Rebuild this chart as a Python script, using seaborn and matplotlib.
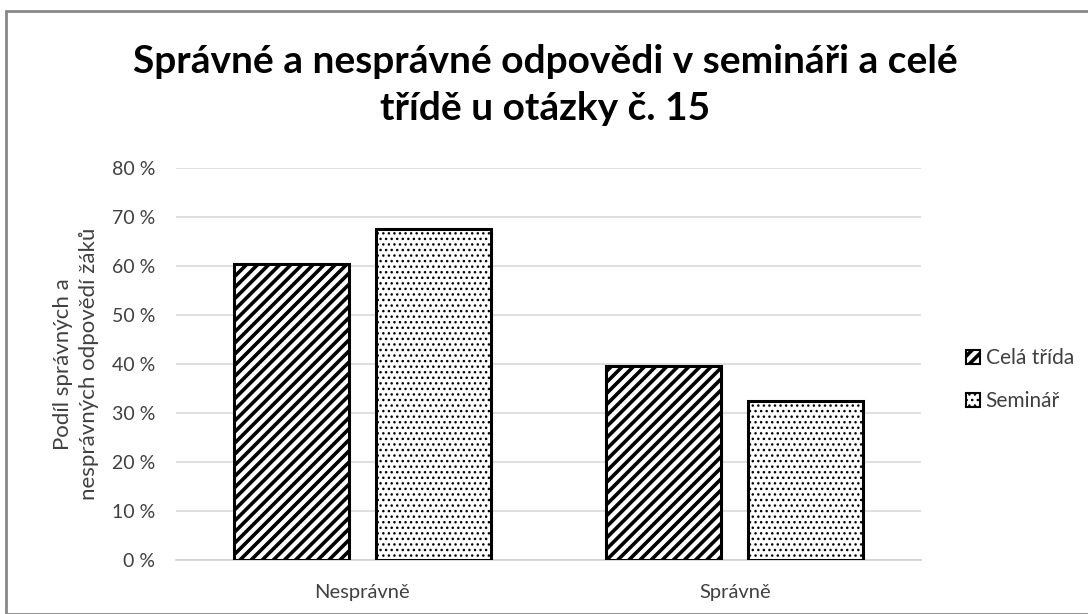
import matplotlib
matplotlib.use("Agg")
import matplotlib.pyplot as plt
import seaborn as sns
import pandas as pd
from matplotlib.patches import Rectangle

categories = ["Nesprávně", "Správně"]
series_names = ["Celá třída", "Seminář"]
cela_trida = [0.605, 0.395]
seminar = [0.676, 0.324]
y_ticks = [0, 0.1, 0.2, 0.3, 0.4, 0.5, 0.6, 0.7, 0.8]
y_tick_labels = ["0 %", "10 %", "20 %", "30 %", "40 %", "50 %", "60 %", "70 %", "80 %"]

df = pd.DataFrame({
    "kategorie": categories * 2,
    "skupina": [series_names[0]] * 2 + [series_names[1]] * 2,
    "podil": cela_trida + seminar,
})

sns.set_theme(style="white")
plt.rcParams["font.family"] = ["Lato", "DejaVu Sans"]
plt.rcParams["hatch.linewidth"] = 2.6

fig = plt.figure(figsize=(10.88, 6.14), dpi=100)
ax = fig.add_axes([176 / 1088, 1 - 560 / 614, (921 - 176) / 1088, (560 - 168) / 614])

sns.barplot(data=df, x="kategorie", y="podil", hue="skupina", hue_order=series_names,
            palette=["white", "white"], width=0.762, gap=0.19, ax=ax,
            edgecolor="black", linewidth=2.2, legend=True, errorbar=None)

hatches = ["///", "..."]
hatch_lw = [2.6, 1.0]


def style_hatch(p, h, lw):
    p.set_hatch(h)
    if hasattr(p, "set_hatch_linewidth"):
        p.set_hatch_linewidth(lw)


for container, h, lw in zip(ax.containers, hatches, hatch_lw):
    for bar in container:
        style_hatch(bar, h, lw)
        bar.set_zorder(3)

ax.set_ylim(0, 0.8)
ax.set_yticks(y_ticks)
ax.set_yticklabels(y_tick_labels, fontsize=14, color="#404040")
ax.tick_params(axis="x", labelsize=14.5, colors="#404040", pad=11)
ax.tick_params(axis="y", pad=15, length=0)
ax.set_xlabel("")
ax.set_ylabel("Podíl správných a\nnesprávných odpovědí žáků", fontsize=16,
              color="#404040", linespacing=1.4)
ax.yaxis.set_label_coords(-(176 - 99) / 745, 0.5)
ax.grid(axis="y", color="#d9d9d9", linewidth=1.2, zorder=0)
ax.set_axisbelow(True)
for s in ["top", "right", "left"]:
    ax.spines[s].set_visible(False)
ax.spines["bottom"].set_color("#d0d0d0")
ax.spines["bottom"].set_linewidth(1.2)

leg = ax.legend(loc="center left", bbox_to_anchor=(1.035, 0.46), frameon=False,
                fontsize=15, handlelength=0.7, handleheight=0.7, handletextpad=0.25,
                labelspacing=1.1, labelcolor="#404040")
for patch, h, lw in zip(leg.get_patches(), hatches, hatch_lw):
    style_hatch(patch, h, lw)
    patch.set_edgecolor("black")
    patch.set_linewidth(1.5)

fig.text(545 / 1088, 1 - 85 / 614,
         "Správné a nesprávné odpovědi v semináři a celé\ntřídě u otázky č. 15",
         ha="center", va="center", fontsize=28, fontweight="bold", color="black",
         linespacing=1.4)

fig.patches.append(Rectangle((6 / 1088, 0), 1.2, 1 - 11 / 614, transform=fig.transFigure,
                             fill=False, edgecolor="#888888", linewidth=2))

fig.savefig("out.png", dpi=100)
